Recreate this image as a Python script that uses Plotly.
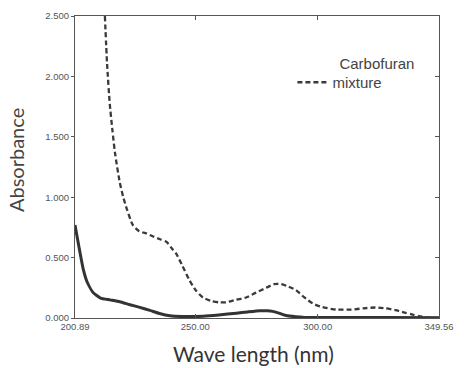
import plotly.graph_objects as go

# Wavelength (nm) and absorbance readings
carbo_wl = [200.89, 202.4, 204.3, 205.8, 208.3, 211.3, 215.2, 219.2, 223.3, 227.0, 231.5,
            235.4, 239.6, 244.8, 253.2, 259.6, 266.8, 271.4, 276.4, 279.3, 281.7, 284.2,
            287.1, 291.1, 294.1, 309.1, 328.8, 349.56]
carbo_abs = [0.77, 0.60, 0.40, 0.30, 0.21, 0.165, 0.15, 0.135, 0.11, 0.09, 0.063,
             0.037, 0.018, 0.012, 0.015, 0.025, 0.04, 0.05, 0.06, 0.06, 0.055, 0.04,
             0.02, 0.01, 0.006, 0.004, 0.004, 0.003]

mix_wl = [213.1, 214.0, 215.1, 216.2, 217.2, 219.2, 220.6, 222.1, 224.5, 227.0, 230.0,
          232.8, 235.9, 238.3, 240.3, 242.3, 244.8, 247.7, 250.2, 253.1, 256.6, 259.6,
          262.5, 266.5, 270.8, 274.8, 279.0, 282.2, 285.2, 288.1, 291.2, 294.6, 298.0,
          301.9, 307.5, 313.8, 318.7, 323.6, 327.6, 331.9, 335.5, 338.4, 341.4, 344.3,
          347.0, 349.56]
mix_abs = [2.50, 2.10, 1.77, 1.55, 1.37, 1.12, 1.00, 0.90, 0.77, 0.72, 0.70,
           0.675, 0.65, 0.63, 0.58, 0.53, 0.43, 0.31, 0.23, 0.17, 0.14, 0.13,
           0.13, 0.15, 0.17, 0.21, 0.25, 0.28, 0.28, 0.26, 0.23, 0.17, 0.12,
           0.09, 0.07, 0.07, 0.08, 0.087, 0.08, 0.065, 0.045, 0.03, 0.015, 0.006,
           0.002, 0.0]

x_ticks = [200.89, 250.00, 300.00, 349.56]
x_tick_text = ["200.89", "250.00", "300.00", "349.56"]
y_ticks = [0.0, 0.5, 1.0, 1.5, 2.0, 2.5]
y_tick_text = ["0.000", "0.500", "1.000", "1.500", "2.000", "2.500"]

AX = "#555555"
TICKFONT = dict(family="Liberation Sans, Arial, sans-serif", size=9.5, color="#555555")
LEGFONT = dict(family="Liberation Sans, Arial, sans-serif", size=15, color="#444444")

ML, MR, MT, MB = 75, 24, 10, 50
W, H = 464, 368
PW, PH = W - ML - MR, H - MT - MB


def px_x(px):
    return (px - ML) / PW


def px_y(py):
    return (H - MB - py) / PH


fig = go.Figure()
fig.add_trace(go.Scatter(x=carbo_wl, y=carbo_abs, mode="lines", name="Carbofuran",
                         showlegend=False,
                         line=dict(color="#333333", width=3, shape="spline", smoothing=0.5)))
# legend label without a visible sample line
fig.add_trace(go.Scatter(x=[None], y=[None], mode="lines", name="Carbofuran",
                         xaxis="x2", yaxis="y2", legend="legend2",
                         line=dict(color="rgba(0,0,0,0)", width=0)))
fig.add_trace(go.Scatter(x=mix_wl, y=mix_abs, mode="lines", name="mixture",
                         line=dict(color="#3a3a3a", width=2.3, dash="5px,3px",
                                   shape="spline", smoothing=0.6)))

fig.update_layout(
    width=W, height=H,
    margin=dict(l=ML, r=MR, t=MT, b=MB),
    paper_bgcolor="white", plot_bgcolor="white",
    showlegend=True,
    legend=dict(x=px_x(293), y=px_y(61), xanchor="left", yanchor="top",
                font=LEGFONT, bgcolor="rgba(0,0,0,0)"),
    legend2=dict(x=px_x(300), y=px_y(42), xanchor="left", yanchor="top",
                 font=LEGFONT, bgcolor="rgba(0,0,0,0)"),
    xaxis=dict(range=[200.89, 349.56], tickvals=x_ticks, ticktext=x_tick_text,
               ticks="inside", ticklen=4, tickcolor=AX, showline=True, linecolor=AX,
               linewidth=1, showgrid=False, zeroline=False, tickfont=TICKFONT),
    yaxis=dict(range=[0, 2.5], tickvals=y_ticks, ticktext=y_tick_text,
               ticks="outside", ticklen=3, tickcolor=AX, showline=True, linecolor=AX,
               linewidth=1, showgrid=False, zeroline=False, tickfont=TICKFONT),
    xaxis2=dict(range=[200.89, 349.56], tickvals=x_ticks, overlaying="x", side="top",
                ticks="inside", ticklen=4, tickcolor=AX, showline=True, linecolor=AX,
                linewidth=1, showgrid=False, zeroline=False, showticklabels=False),
    yaxis2=dict(range=[0, 2.5], tickvals=y_ticks, overlaying="y", side="right",
                ticks="inside", ticklen=4, tickcolor=AX, showline=True, linecolor=AX,
                linewidth=1, showgrid=False, zeroline=False, showticklabels=False),
    annotations=[
        dict(text="Absorbance", xref="paper", yref="paper", x=0, y=0.5,
             xanchor="center", yanchor="middle", xshift=-59, yshift=7, textangle=-90,
             showarrow=False, font=dict(family="Lato, sans-serif", size=20, color="#444444")),
        dict(text="Wave length (nm)", xref="paper", yref="paper", x=0.5, y=0,
             xanchor="center", yanchor="middle", xshift=-4, yshift=-35,
             showarrow=False, font=dict(family="Lato, sans-serif", size=21, color="#333333")),
    ],
)

fig.write_html("out.html")
